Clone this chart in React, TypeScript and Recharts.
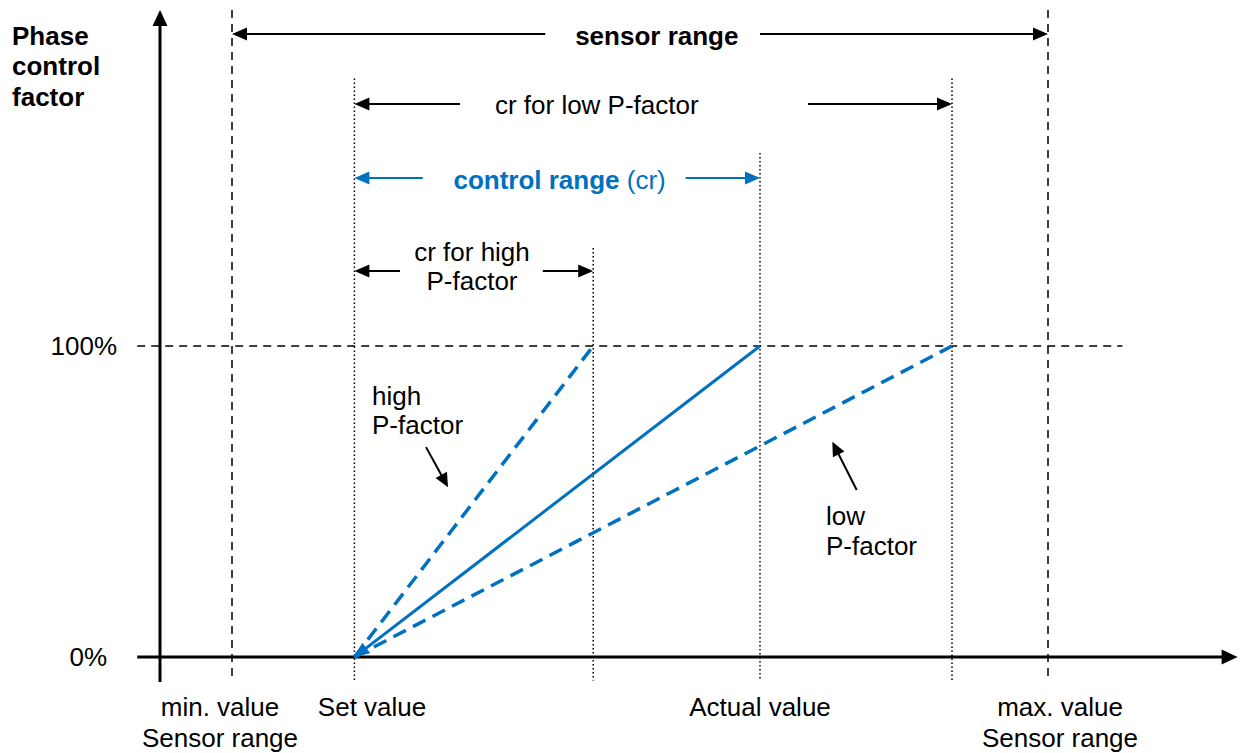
import { LineChart, Line, XAxis, YAxis, ReferenceLine, ReferenceDot } from 'recharts';

const BLUE = '#0070C0';
const FONT = '"Liberation Sans", Arial, sans-serif';

// positions along the sensor axis (arbitrary units)
const sensorMin = 6;
const setValue = 16.2;
const crHighEnd = 36.1;
const actualValue = 50;
const crLowEnd = 66;
const sensorMax = 74;

// phase control factor in %
const controlLine = [{ x: setValue, y: 0 }, { x: actualValue, y: 100 }];
const highPLine = [{ x: setValue, y: 0 }, { x: crHighEnd, y: 100 }];
const lowPLine = [{ x: setValue, y: 0 }, { x: crLowEnd, y: 100 }];

// vertical guide lines: x, top value, style
const guides = [
  { x: sensorMin, top: 208, dash: '8 6' },
  { x: setValue, top: 186, dash: '1.5 2.5' },
  { x: crHighEnd, top: 131.5, dash: '1.5 2.5' },
  { x: actualValue, top: 162, dash: '1.5 2.5' },
  { x: crLowEnd, top: 186, dash: '1.5 2.5' },
  { x: sensorMax, top: 208, dash: '8 6' },
];

// dimension arrows: y level, start, end, and where the text gap sits
const dimArrows = [
  { y: 200.3, from: sensorMin, to: sensorMax, gapFrom: 32.1, gapTo: 50, color: '#000' },
  { y: 177.8, from: setValue, to: crLowEnd, gapFrom: 25, gapTo: 54, color: '#000' },
  { y: 154, from: setValue, to: actualValue, gapFrom: 21.9, gapTo: 43.8, color: BLUE },
  { y: 124.1, from: setValue, to: crHighEnd, gapFrom: 20, gapTo: 31.9, color: '#000' },
];

// pointer arrows from the P-factor notes to the lines
const pointers = [
  { x1: 22.17, y1: 67.5, x2: 24.0, y2: 54.6 },
  { x1: 58.06, y1: 53.7, x2: 56.03, y2: 69.2 },
];

type Note = { text: string; x: number; y: number; anchor: 'start' | 'middle' | 'end'; bold?: boolean; color?: string };

const notes: Note[] = [
  { text: 'Phase', x: -12.33, y: 199.7, anchor: 'start', bold: true },
  { text: 'control', x: -12.33, y: 190, anchor: 'start', bold: true },
  { text: 'factor', x: -12.33, y: 180.1, anchor: 'start', bold: true },
  { text: 'sensor range', x: 41.4, y: 199.7, anchor: 'middle', bold: true },
  { text: 'cr for low P-factor', x: 36.4, y: 177.5, anchor: 'middle' },
  { text: 'cr for high', x: 26, y: 130.2, anchor: 'middle' },
  { text: 'P-factor', x: 26, y: 120.9, anchor: 'middle' },
  { text: 'high', x: 17.67, y: 83.9, anchor: 'start' },
  { text: 'P-factor', x: 17.67, y: 74.6, anchor: 'start' },
  { text: 'low', x: 55.5, y: 45.3, anchor: 'start' },
  { text: 'P-factor', x: 55.5, y: 35.7, anchor: 'start' },
  { text: '100%', x: -3.58, y: 100, anchor: 'end' },
  { text: '0%', x: -4.4, y: 0, anchor: 'end' },
  { text: 'min. value', x: 5, y: -16.1, anchor: 'middle' },
  { text: 'Sensor range', x: 5, y: -26, anchor: 'middle' },
  { text: 'Set value', x: 17.67, y: -16.1, anchor: 'middle' },
  { text: 'Actual value', x: 50, y: -16.1, anchor: 'middle' },
  { text: 'max. value', x: 75, y: -16.1, anchor: 'middle' },
  { text: 'Sensor range', x: 75, y: -26, anchor: 'middle' },
];

const arrowShape = (color: string, width: number, head: number, half: number, showLine = true) => (p: any) => {
  const { x1, y1, x2, y2 } = p;
  const dx = x2 - x1;
  const dy = y2 - y1;
  const len = Math.hypot(dx, dy) || 1;
  const ux = dx / len;
  const uy = dy / len;
  const bx = x2 - ux * head;
  const by = y2 - uy * head;
  const pts = `${x2},${y2} ${bx - uy * half},${by + ux * half} ${bx + uy * half},${by - ux * half}`;
  return (
    <g>
      {showLine && <line x1={x1} y1={y1} x2={bx + ux} y2={by + uy} stroke={color} strokeWidth={width} />}
      <polygon points={pts} fill={color} />
    </g>
  );
};

const textShape = (n: Note) => (p: any) => (
  <text
    x={p.cx}
    y={p.cy}
    textAnchor={n.anchor}
    dominantBaseline="central"
    fontFamily={FONT}
    fontSize={26}
    fontWeight={n.bold ? 'bold' : 'normal'}
    fill={n.color ?? '#000'}
  >
    {n.text}
  </text>
);

const controlRangeLabel = (p: any) => (
  <text x={p.cx} y={p.cy} textAnchor="middle" dominantBaseline="central" fontFamily={FONT} fontSize={26} fill={BLUE}>
    <tspan fontWeight="bold">control range</tspan>
    <tspan> (cr)</tspan>
  </text>
);

const App = () => {
  return (
    <div style={{ position: 'absolute', left: 0, top: 0, background: '#fff' }}>
      <LineChart width={1240} height={753} margin={{ top: 10, right: 0, bottom: 71, left: 136 }}>
        <XAxis type="number" dataKey="x" domain={[-2, 90]} allowDataOverflow hide />
        <YAxis type="number" dataKey="y" domain={[-8, 208]} allowDataOverflow hide />

        {guides.map((g, i) => (
          <ReferenceLine
            key={`g${i}`}
            segment={[{ x: g.x, y: g.top }, { x: g.x, y: -7.5 }]}
            stroke="#000"
            strokeWidth={1.5}
            strokeDasharray={g.dash}
            ifOverflow="visible"
          />
        ))}

        <ReferenceLine
          segment={[{ x: -1.9, y: 100 }, { x: 80.2, y: 100 }]}
          stroke="#000"
          strokeWidth={1.5}
          strokeDasharray="8 6"
          ifOverflow="visible"
        />

        {/* axes with arrowheads */}
        <ReferenceLine
          segment={[{ x: 0, y: -8 }, { x: 0, y: 208 }]}
          ifOverflow="visible"
          shape={arrowShape('#000', 3, 16, 7.5)}
        />
        <ReferenceLine
          segment={[{ x: -1.9, y: 0 }, { x: 89.8, y: 0 }]}
          ifOverflow="visible"
          shape={arrowShape('#000', 3, 16, 7.5)}
        />

        {dimArrows.map((a, i) => [
          <ReferenceLine
            key={`dl${i}`}
            segment={[{ x: a.gapFrom, y: a.y }, { x: a.from, y: a.y }]}
            ifOverflow="visible"
            shape={arrowShape(a.color, 2, 15, 6.5)}
          />,
          <ReferenceLine
            key={`dr${i}`}
            segment={[{ x: a.gapTo, y: a.y }, { x: a.to, y: a.y }]}
            ifOverflow="visible"
            shape={arrowShape(a.color, 2, 15, 6.5)}
          />,
        ])}

        {pointers.map((p, i) => (
          <ReferenceLine
            key={`p${i}`}
            segment={[{ x: p.x1, y: p.y1 }, { x: p.x2, y: p.y2 }]}
            ifOverflow="visible"
            shape={arrowShape('#000', 2, 14, 6.5)}
          />
        ))}

        <Line data={highPLine} dataKey="y" stroke={BLUE} strokeWidth={3.5} strokeDasharray="14 8" dot={false} isAnimationActive={false} />
        <Line data={lowPLine} dataKey="y" stroke={BLUE} strokeWidth={3.5} strokeDasharray="14 8" dot={false} isAnimationActive={false} />
        <Line data={controlLine} dataKey="y" stroke={BLUE} strokeWidth={3} dot={false} isAnimationActive={false} />

        <ReferenceLine
          segment={[{ x: actualValue, y: 100 }, { x: setValue, y: 0 }]}
          ifOverflow="visible"
          shape={arrowShape(BLUE, 3, 15, 6.5, false)}
        />

        {notes.map((n, i) => (
          <ReferenceDot key={`n${i}`} x={n.x} y={n.y} ifOverflow="visible" shape={textShape(n)} />
        ))}
        <ReferenceDot x={33.3} y={153.4} ifOverflow="visible" shape={controlRangeLabel} />
      </LineChart>
    </div>
  );
};

export default App;
